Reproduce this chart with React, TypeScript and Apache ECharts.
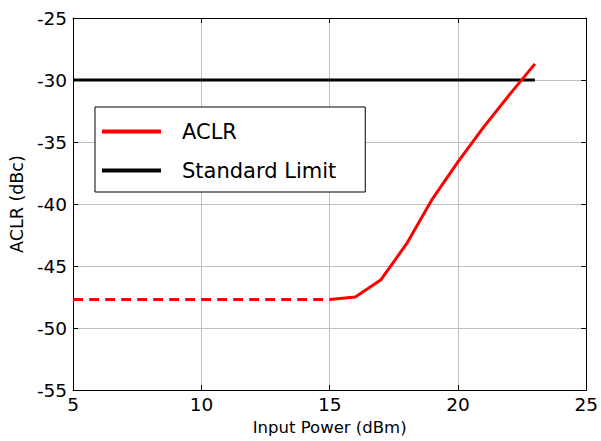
import React, { useEffect, useRef } from "react";
import * as echarts from "echarts";

const aclrSolid: [number, number][] = [
  [15, -47.7], [16, -47.5], [17, -46.1], [18, -43.2], [19, -39.6],
  [20, -36.6], [21, -33.8], [22, -31.2], [23, -28.7],
];
const aclrDashed: [number, number][] = [
  [5, -47.7], [15, -47.7],
];
const standardLimit: [number, number][] = [
  [5, -30], [23, -30],
];
const xRange = [5, 25];
const yRange = [-55, -25];

const FONT = "DejaVu Sans, Liberation Sans, Arial, sans-serif";

export default function App() {
  const ref = useRef<HTMLDivElement>(null);
  useEffect(() => {
    if (!ref.current) return;
    const chart = echarts.init(ref.current, undefined, { renderer: "svg" });
    const axisLine = { show: true, lineStyle: { color: "#000", width: 1 } };
    const tick = { show: true, inside: true, length: 5, lineStyle: { color: "#000" } };
    chart.setOption({
      animation: false,
      backgroundColor: "#fff",
      textStyle: { fontFamily: FONT },
      grid: { left: 70, right: 13, top: 18, bottom: 48, containLabel: false },
      legend: {
        show: true,
        orient: "vertical",
        left: 95,
        top: 107,
        data: [
          { name: "ACLR", icon: "rect" },
          { name: "Standard Limit", icon: "rect" },
        ],
        itemWidth: 59,
        itemHeight: 4,
        itemGap: 18,
        padding: [14, 29, 11, 7],
        borderColor: "#000",
        borderWidth: 1,
        backgroundColor: "#fff",
        textStyle: { fontSize: 21, color: "#000", fontFamily: FONT, padding: [0, 0, 0, 16] },
      },
      xAxis: [
        {
          type: "value",
          min: xRange[0],
          max: xRange[1],
          interval: 5,
          name: "Input Power (dBm)",
          nameLocation: "middle",
          nameGap: 25,
          nameTextStyle: { fontSize: 16.5, color: "#000", fontFamily: FONT },
          axisLine,
          axisTick: tick,
          axisLabel: { fontSize: 18.5, color: "#000", margin: 5, fontFamily: FONT },
          splitLine: { show: true, lineStyle: { color: "#c0c0c0", width: 1 } },
        },
        {
          type: "value",
          position: "top",
          min: xRange[0],
          max: xRange[1],
          interval: 5,
          axisLine,
          axisTick: tick,
          axisLabel: { show: false },
          splitLine: { show: false },
        },
      ],
      yAxis: [
        {
          type: "value",
          min: yRange[0],
          max: yRange[1],
          interval: 5,
          name: "ACLR (dBc)",
          nameLocation: "middle",
          nameGap: 42,
          nameTextStyle: { fontSize: 17.5, color: "#000", fontFamily: FONT },
          axisLine,
          axisTick: tick,
          axisLabel: { fontSize: 18.5, color: "#000", margin: 6, fontFamily: FONT },
          splitLine: { show: true, lineStyle: { color: "#c0c0c0", width: 1 } },
        },
        {
          type: "value",
          position: "right",
          min: yRange[0],
          max: yRange[1],
          interval: 5,
          axisLine,
          axisTick: tick,
          axisLabel: { show: false },
          splitLine: { show: false },
        },
      ],
      series: [
        {
          name: "ACLR",
          type: "line",
          data: aclrSolid,
          showSymbol: false,
          symbol: "none",
          lineStyle: { color: "#ff0000", width: 3 },
          itemStyle: { color: "#ff0000" },
          z: 3,
        },
        {
          name: "ACLR dashed",
          type: "line",
          data: aclrDashed,
          showSymbol: false,
          symbol: "none",
          lineStyle: { color: "#ff0000", width: 3, type: [10, 6] },
          itemStyle: { color: "#ff0000" },
          z: 3,
        },
        {
          name: "Standard Limit",
          type: "line",
          data: standardLimit,
          showSymbol: false,
          symbol: "none",
          lineStyle: { color: "#000", width: 3 },
          itemStyle: { color: "#000" },
          z: 2,
        },
      ],
    });
    return () => chart.dispose();
  }, []);
  return <div ref={ref} style={{ width: 601, height: 441, position: "absolute", left: 0, top: 0 }} />;
}
